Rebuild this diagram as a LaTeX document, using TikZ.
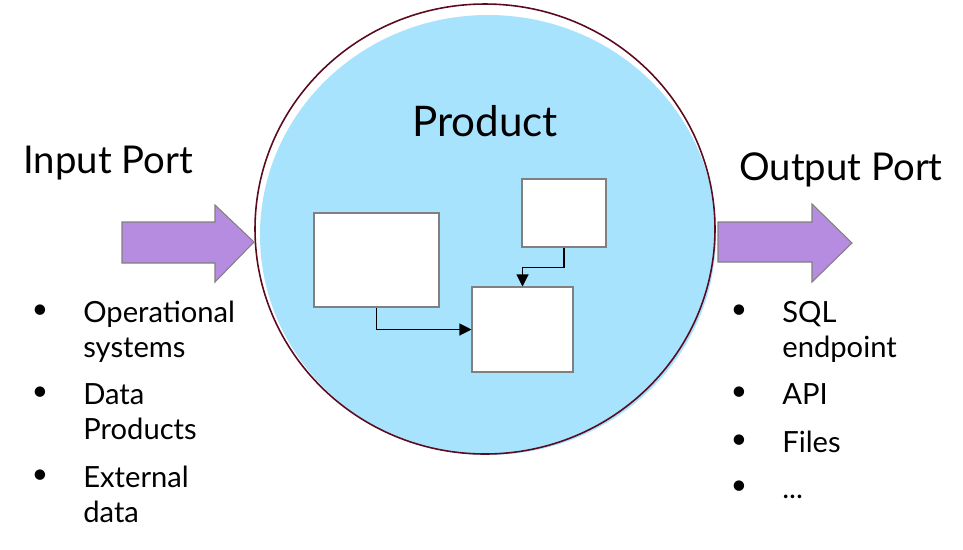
\documentclass[tikz,border=0pt]{standalone}
\usepackage{fontspec}
\setmainfont{Lato}
\usetikzlibrary{arrows.meta}

\begin{document}
\begin{tikzpicture}[x=0.02cm,y=-0.02cm,
	box/.style={draw=gray,fill=white,line width=0.6pt,inner sep=0},
	head/.style={font=\fontsize{21.8}{25}\selectfont,inner sep=0},
	entry/.style={font=\fontsize{16.6}{19.9}\selectfont,align=left,anchor=base west,inner sep=0},
	dot/.style={font=\fontsize{16}{19.9}\selectfont,inner sep=0},
	link/.style={-{Triangle[length=0.24cm,width=0.24cm]},line width=0.6pt}]
	\definecolor{lightblue}{RGB}{168,227,253}
	\definecolor{darkred}{RGB}{92,10,30}
	\definecolor{lilac}{RGB}{182,140,224}

	\useasboundingbox (0,0) rectangle (963,549);

	% the product
	\fill[lightblue] (488,235) ellipse [x radius=228, y radius=220];
	\draw[darkred,line width=0.9pt] (485,229) ellipse [x radius=230, y radius=225];
	\node[head,font=\fontsize{24}{28}\selectfont] (product) at (485,121) {Product};

	\node[box,minimum width=2.5cm,minimum height=1.88cm] (boxA) at (376.5,260) {};
	\node[box,minimum width=1.68cm,minimum height=1.36cm] (boxB) at (564,213) {};
	\node[box,minimum width=2.02cm,minimum height=1.7cm] (boxC) at (522.5,329.5) {};

	\draw[link] (boxA.south) |- (boxC.west);
	\draw[link] (boxB.south) -- ++(0,20) -| (boxC.north);

	% ports
	\draw[draw=gray,fill=lilac,line width=0.6pt] (122,222) -- (215,222) -- (215,205) -- (254,242) -- (215,282) -- (215,263) -- (122,263) -- cycle;
	\draw[draw=gray,fill=lilac,line width=0.6pt] (718,222) -- (812,222) -- (812,204) -- (852,243) -- (812,282) -- (812,262) -- (718,262) -- cycle;

	\node[head,anchor=west] (inport) at (23,163) {Input Port};
	\node[head,anchor=west] (outport) at (739,170) {Output Port};

	% input list
	\node[dot] (d1) at (40,312) {\textbullet};
	\node[entry] (ops) at (83,357) {Operational\\systems};
	\node[dot] (d2) at (40,394) {\textbullet};
	\node[entry] (dp) at (83,439) {Data\\Products};
	\node[dot] (d3) at (40,477) {\textbullet};
	\node[entry] (ext) at (83,522) {External\\data};

	% output list
	\node[dot] (d4) at (739,312) {\textbullet};
	\node[entry] (sql) at (782,357) {SQL\\endpoint};
	\node[dot] (d5) at (739,394) {\textbullet};
	\node[entry] (api) at (782,404) {API};
	\node[dot] (d6) at (739,442) {\textbullet};
	\node[entry] (files) at (782,452) {Files};
	\node[dot] (d7) at (739,488) {\textbullet};
	\node[entry] (more) at (782,498) {...};
\end{tikzpicture}
\end{document}
